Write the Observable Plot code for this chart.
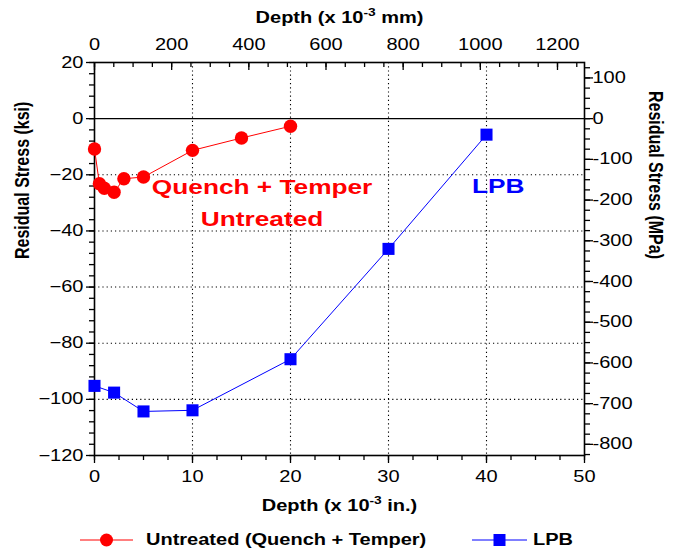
<!DOCTYPE html>
<html>
<head>
<meta charset="utf-8">
<script src="https://cdn.jsdelivr.net/npm/d3@7"></script>
<script src="https://cdn.jsdelivr.net/npm/@observablehq/plot@0.6"></script>
<style>
  body { margin: 0; background: #fff; font-family: "Liberation Sans", Arial, sans-serif; }
  #chart svg { display: block; }
  #legend { position: relative; width: 674px; height: 32px; }
  #legend .sw { position: absolute; top: 12px; }
  #legend .lt { position: absolute; top: 12px; font-size: 16px; line-height: 16px; font-weight: bold; color: #000;
                white-space: nowrap; transform: scaleX(1.25); transform-origin: left center; }
</style>
</head>
<body>
<div id="chart"></div>
<div id="legend"></div>
<script>
// ---- data (depth in 10^-3 in., stress in ksi) ----
const untreatedDepth  = [0, 0.5, 1, 2, 3, 5, 10, 15, 20];
const untreatedStress = [-10.8, -23.2, -24.8, -26.2, -21.4, -20.8, -11.3, -6.9, -2.7];
const lpbDepth  = [0, 2, 5, 10, 20, 30, 40];
const lpbStress = [-95.2, -97.6, -104.3, -103.9, -85.7, -46.4, -5.7];

const seriesNames  = ["Untreated (Quench + Temper)", "LPB"];
const seriesColors = ["#ff0000", "#0000ff"];

// tick values
const xTicksIn  = [0, 10, 20, 30, 40, 50];
const xTicksMm  = [0, 200, 400, 600, 800, 1000, 1200];
const yTicksKsi = [-120, -100, -80, -60, -40, -20, 0, 20];
const yTicksMpa = [-800, -700, -600, -500, -400, -300, -200, -100, 0, 100];

// annotation labels (data coordinates)
const annoText  = ["Quench + Temper", "Untreated", "LPB"];
const annoX     = [17.1, 17.1, 41.2];
const annoY     = [-24.6, -35.7, -24.0];
const annoColor = ["#ff0000", "#ff0000", "#0000ff"];

const titleTop    = "Depth (x 10{-3} mm)";
const titleBottom = "Depth (x 10{-3} in.)";
const titleLeft   = "Residual Stress (ksi)";
const titleRight  = "Residual Stress (MPa)";

// unit conversions
const MM_PER_IN = 25.4;          // 10^-3 mm per 10^-3 in.
const MPA_PER_KSI = 6.894757;

// ---- derived tables ----
const untreated = untreatedDepth.map((d, i) => ({depth: d, stress: untreatedStress[i]}));
const lpb = lpbDepth.map((d, i) => ({depth: d, stress: lpbStress[i]}));
const annos = annoText.map((t, i) => ({label: t, x: annoX[i], y: annoY[i], color: annoColor[i]}));

const minorIn  = d3.range(0, 50.001, 2.5);
const minorMm  = d3.range(0, 1270, 50).map(m => m / MM_PER_IN);
const majorMm  = xTicksMm.map(m => m / MM_PER_IN);
const minorKsi = d3.range(-120, 20.001, 4);
const majorMpa = yTicksMpa.map(v => v / MPA_PER_KSI);
const minorMpa = d3.range(-825, 126, 25).map(v => v / MPA_PER_KSI);

const font = '"Liberation Sans", Arial, sans-serif';
const blank = () => "";
const dotted = {stroke: "black", strokeOpacity: 1, strokeWidth: 1.1, strokeDasharray: "1.2,3"};

const chart = Plot.plot({
  width: 674,
  height: 520,
  marginLeft: 94,
  marginRight: 90,
  marginTop: 62,
  marginBottom: 65,
  style: {fontFamily: font, fontSize: "16px", color: "black", background: "white"},
  x: {domain: [0, 50]},
  y: {domain: [-120, 20]},
  marks: [
    Plot.gridX(xTicksIn.filter(d => d > 0 && d < 50), dotted),
    Plot.gridY(yTicksKsi.filter(d => d < 0 && d > -120), dotted),
    Plot.ruleY([0], {stroke: "black", strokeWidth: 1.4}),

    // bottom axis (inches)
    Plot.axisX(minorIn, {anchor: "bottom", tickSize: 5, tickFormat: blank, label: null, strokeWidth: 1.3}),
    Plot.axisX(xTicksIn, {anchor: "bottom", tickSize: 8, tickFormat: blank, label: null, strokeWidth: 1.3}),
    Plot.axisX(xTicksIn, {anchor: "bottom", tickSize: 0, tickPadding: 15, label: null, fontSize: 16}),

    // top axis (mm)
    Plot.axisX(minorMm, {anchor: "top", tickSize: -4, tickFormat: blank, label: null, strokeWidth: 1.3}),
    Plot.axisX(majorMm, {anchor: "top", tickSize: -7, tickFormat: blank, label: null, strokeWidth: 1.3}),
    Plot.axisX(majorMm, {anchor: "top", tickSize: 0, tickPadding: 13, label: null, fontSize: 16,
                         tickFormat: d => String(Math.round(d * MM_PER_IN))}),

    // left axis (ksi)
    Plot.axisY(minorKsi, {anchor: "left", tickSize: 5, tickFormat: blank, label: null, strokeWidth: 1.3}),
    Plot.axisY(yTicksKsi, {anchor: "left", tickSize: 8, tickFormat: blank, label: null, strokeWidth: 1.3}),
    Plot.axisY(yTicksKsi, {anchor: "left", tickSize: 0, tickPadding: 11, label: null, fontSize: 16}),

    // right axis (MPa)
    Plot.axisY(minorMpa, {anchor: "right", tickSize: 5, tickFormat: blank, label: null, strokeWidth: 1.3}),
    Plot.axisY(majorMpa, {anchor: "right", tickSize: 8, tickFormat: blank, label: null, strokeWidth: 1.3}),
    Plot.axisY(majorMpa, {anchor: "right", tickSize: 0, tickPadding: 8, label: null, fontSize: 16,
                          tickFormat: d => String(Math.round(d * MPA_PER_KSI))}),

    Plot.frame({stroke: "black", strokeWidth: 1.6}),

    // series
    Plot.line(untreated, {x: "depth", y: "stress", stroke: seriesColors[0], strokeWidth: 1}),
    Plot.dot(untreated, {x: "depth", y: "stress", r: 6.7, fill: seriesColors[0], stroke: null}),
    Plot.line(lpb, {x: "depth", y: "stress", stroke: seriesColors[1], strokeWidth: 1}),
    Plot.dot(lpb, {x: "depth", y: "stress", symbol: "square", r: 6.8, fill: seriesColors[1], stroke: null}),

    // annotations
    Plot.text(annos.filter(a => a.color === "#ff0000"), {x: "x", y: "y", text: "label", fill: "#ff0000",
              fontSize: 21, fontWeight: "bold"}),
    Plot.text(annos.filter(a => a.color === "#0000ff"), {x: "x", y: "y", text: "label", fill: "#0000ff",
              fontSize: 21, fontWeight: "bold"}),

    // axis titles
    Plot.text([titleTop], {text: d => d, frameAnchor: "top", lineAnchor: "middle", dy: -45,
              fontWeight: "bold", fontSize: 16}),
    Plot.text([titleBottom], {text: d => d, frameAnchor: "bottom", lineAnchor: "middle", dy: 50,
              fontWeight: "bold", fontSize: 16}),
    Plot.text([titleLeft], {text: d => d, frameAnchor: "left", dx: -72, rotate: -90, fontWeight: "bold", fontSize: 16}),
    Plot.text([titleRight], {text: d => d, frameAnchor: "right", dx: 71, rotate: 90, fontWeight: "bold", fontSize: 16})
  ]
});

document.getElementById("chart").appendChild(chart);

// superscripts in titles
const NS = "http://www.w3.org/2000/svg";
chart.querySelectorAll("text").forEach(el => {
  const s = el.textContent;
  const m = s.match(/^(.*)\{(.*?)\}(.*)$/);
  if (!m) return;
  el.textContent = "";
  const a = document.createElementNS(NS, "tspan"); a.textContent = m[1];
  const b = document.createElementNS(NS, "tspan"); b.textContent = m[2];
  b.setAttribute("font-size", "11"); b.setAttribute("dy", "-7");
  const c = document.createElementNS(NS, "tspan"); c.textContent = m[3];
  c.setAttribute("dy", "7");
  el.appendChild(a); el.appendChild(b); el.appendChild(c);
});

// reference glyphs are stretched horizontally: scale each text about its own anchor point
const STRETCH = 1.25;
chart.querySelectorAll("text").forEach(el => {
  if (!el.textContent) return;
  let b;
  try { b = el.getBBox(); } catch (e) { return; }
  if (!b || !isFinite(b.x) || !isFinite(b.width)) return;
  const anchor = getComputedStyle(el).textAnchor || "start";
  const t = el.getAttribute("transform") || "";
  const rotated = /rotate\(/.test(t);
  let tr;
  if (!rotated) {
    const ax = anchor === "middle" ? b.x + b.width / 2 : anchor === "end" ? b.x + b.width : b.x;
    tr = `translate(${ax},0) scale(${STRETCH},1) translate(${-ax},0)`;
  } else {
    const ay = b.y + b.height / 2;
    tr = `translate(0,${ay}) scale(1,${STRETCH}) translate(0,${-ay})`;
  }
  el.setAttribute("transform", (t + " " + tr).trim());
});

// legend below the chart
const legend = document.getElementById("legend");
const swLeft = [80, 472], swWidth = [53, 55], txtLeft = [146, 533];
seriesNames.forEach((name, i) => {
  const col = seriesColors[i];
  const w = swWidth[i];
  const marker = i === 0
    ? `<circle cx="${w / 2}" cy="8" r="6.5" fill="${col}"/>`
    : `<rect x="${w / 2 - 6}" y="2" width="12" height="12" fill="${col}"/>`;
  legend.insertAdjacentHTML("beforeend",
    `<svg class="sw" style="left:${swLeft[i]}px" width="${w}" height="16">
       <line x1="0" y1="8" x2="${w}" y2="8" stroke="${col}" stroke-width="1"/>${marker}</svg>
     <span class="lt" style="left:${txtLeft[i]}px">${name}</span>`);
});
</script>
</body>
</html>
